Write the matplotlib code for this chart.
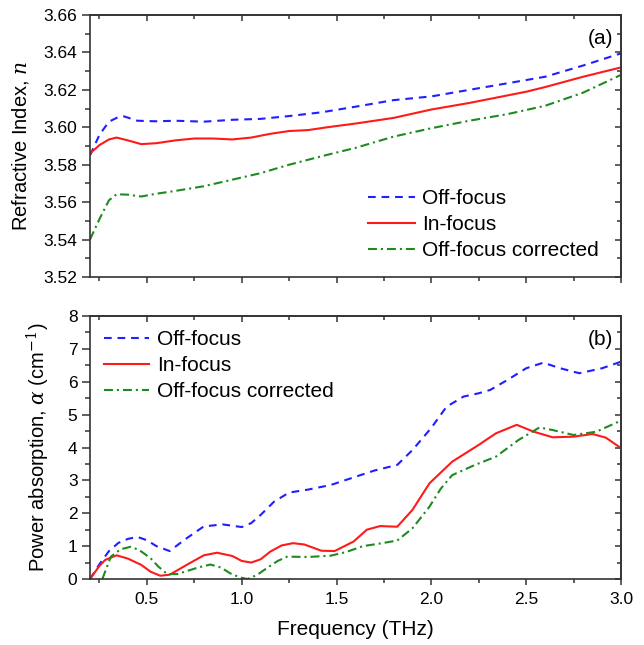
import matplotlib
matplotlib.use("Agg")
import matplotlib.pyplot as plt
from matplotlib.ticker import MultipleLocator

plt.rcParams["font.family"] = ["Liberation Sans", "DejaVu Sans"]
plt.rcParams["mathtext.fontset"] = "dejavuserif"

# (a) refractive index
f_n_off = [0.20, 0.25, 0.30, 0.35, 0.38, 0.45, 0.55, 0.65, 0.80, 0.95, 1.10, 1.25, 1.42,
           1.60, 1.80, 2.00, 2.20, 2.40, 2.60, 2.80, 3.00]
n_off = [3.585, 3.596, 3.603, 3.6055, 3.6058, 3.6035, 3.6032, 3.6035, 3.603, 3.604, 3.6045,
         3.606, 3.608, 3.611, 3.6145, 3.6165, 3.620, 3.6235, 3.627, 3.633, 3.6395]

f_n_in = [0.20, 0.25, 0.30, 0.34, 0.40, 0.47, 0.55, 0.65, 0.75, 0.85, 0.95, 1.05, 1.15, 1.25,
          1.35, 1.45, 1.60, 1.80, 2.00, 2.20, 2.40, 2.50, 2.60, 2.80, 3.00]
n_in = [3.586, 3.5905, 3.5935, 3.5945, 3.593, 3.591, 3.5915, 3.593, 3.594, 3.594, 3.5935,
        3.5945, 3.5965, 3.598, 3.5985, 3.600, 3.602, 3.605, 3.6095, 3.613, 3.617, 3.619,
        3.6215, 3.627, 3.632]

f_n_cor = [0.20, 0.25, 0.30, 0.34, 0.40, 0.47, 0.55, 0.65, 0.80, 0.95, 1.10, 1.25, 1.42,
           1.60, 1.80, 2.00, 2.20, 2.40, 2.60, 2.80, 3.00]
n_cor = [3.540, 3.551, 3.561, 3.5642, 3.564, 3.563, 3.5645, 3.566, 3.5685, 3.572, 3.5755,
         3.580, 3.5845, 3.589, 3.595, 3.5995, 3.6035, 3.607, 3.6115, 3.6185, 3.628]

# (b) power absorption
f_a_off = [0.20, 0.25, 0.30, 0.35, 0.40, 0.45, 0.50, 0.55, 0.62, 0.70, 0.80, 0.90, 1.00,
           1.05, 1.10, 1.17, 1.25, 1.35, 1.47, 1.60, 1.70, 1.82, 1.90, 2.00, 2.08, 2.17,
           2.25, 2.31, 2.40, 2.50, 2.59, 2.68, 2.78, 2.90, 3.00]
a_off = [0.0, 0.45, 0.85, 1.1, 1.22, 1.28, 1.18, 1.0, 0.85, 1.2, 1.6, 1.66, 1.58, 1.7, 1.95,
         2.35, 2.63, 2.72, 2.86, 3.11, 3.3, 3.47, 3.92, 4.6, 5.24, 5.55, 5.65, 5.75, 6.05,
         6.41, 6.58, 6.41, 6.26, 6.41, 6.61]

f_a_in = [0.20, 0.25, 0.28, 0.34, 0.40, 0.47, 0.52, 0.57, 0.62, 0.71, 0.80, 0.87, 0.95,
          1.00, 1.05, 1.10, 1.15, 1.21, 1.27, 1.33, 1.42, 1.49, 1.59, 1.66, 1.73, 1.82,
          1.90, 1.99, 2.11, 2.25, 2.34, 2.45, 2.54, 2.64, 2.75, 2.85, 2.92, 3.00]
a_in = [0.0, 0.4, 0.58, 0.72, 0.62, 0.43, 0.22, 0.1, 0.13, 0.43, 0.72, 0.8, 0.7, 0.55, 0.5,
        0.6, 0.83, 1.02, 1.09, 1.05, 0.86, 0.85, 1.14, 1.5, 1.61, 1.59, 2.10, 2.91, 3.57,
        4.08, 4.43, 4.69, 4.48, 4.31, 4.33, 4.41, 4.30, 3.98]

f_a_cor = [0.265, 0.31, 0.36, 0.414, 0.46, 0.52, 0.56, 0.607, 0.66, 0.71, 0.77, 0.835, 0.89,
           0.94, 0.99, 1.03, 1.08, 1.13, 1.19, 1.24, 1.35, 1.47, 1.55, 1.64, 1.73, 1.82,
           1.90, 1.99, 2.05, 2.11, 2.23, 2.34, 2.46, 2.57, 2.64, 2.75, 2.87, 3.00]
a_cor = [0.0, 0.68, 0.9, 0.98, 0.88, 0.63, 0.38, 0.15, 0.15, 0.24, 0.35, 0.44, 0.35, 0.17,
         0.05, 0.0, 0.12, 0.32, 0.55, 0.68, 0.67, 0.71, 0.82, 1.0, 1.08, 1.17, 1.54, 2.2,
         2.75, 3.16, 3.47, 3.72, 4.23, 4.61, 4.53, 4.38, 4.48, 4.82]

labels = ["Off-focus", "In-focus", "Off-focus corrected"]
blue, red, green = "#1f1fff", "#ff1a1a", "#1f8a1f"
dash_b = (3.7, 2.8)
dash_g = (4.3, 1.9, 1.0, 1.9)

fig = plt.figure(figsize=(6.44, 6.45), dpi=100)
ax1 = fig.add_axes([90 / 644, 368 / 645, 531 / 644, 262 / 645])
ax2 = fig.add_axes([90 / 644, 66 / 645, 531 / 644, 263 / 645])

ax1.plot(f_n_off, n_off, color=blue, lw=1.5, dashes=dash_b, label=labels[0])
ax1.plot(f_n_in, n_in, color=red, lw=1.5, label=labels[1])
ax1.plot(f_n_cor, n_cor, color=green, lw=1.5, dashes=dash_g, label=labels[2])

ax2.plot(f_a_off, a_off, color=blue, lw=1.5, dashes=dash_b, label=labels[0])
ax2.plot(f_a_in, a_in, color=red, lw=1.5, label=labels[1])
ax2.plot(f_a_cor, a_cor, color=green, lw=1.5, dashes=dash_g, label=labels[2])

ax1.set_ylim(3.52, 3.66)
ax1.yaxis.set_major_locator(MultipleLocator(0.02))
ax1.yaxis.set_minor_locator(MultipleLocator(0.01))
ax1.set_ylabel("Refractive Index, $\\mathit{n}$", fontsize=14.5, labelpad=9)
ax1.set_xticklabels([])

ax2.set_ylim(0, 8)
ax2.yaxis.set_major_locator(MultipleLocator(1))
ax2.yaxis.set_minor_locator(MultipleLocator(0.5))
ax2.set_ylabel("Power absorption, $\\alpha$ (cm$^{-1}$)", fontsize=14.5, labelpad=11)
ax2.set_xlabel("Frequency (THz)", fontsize=15, labelpad=10)

for ax in (ax1, ax2):
    ax.set_xlim(0.2, 3.0)
    ax.xaxis.set_major_locator(MultipleLocator(0.5))
    ax.xaxis.set_minor_locator(MultipleLocator(0.25))
    ax.tick_params(which="both", direction="out", labelsize=12.5, color="#333333")
    ax.tick_params(axis="y", which="major", length=6, width=1.1, pad=3)
    ax.tick_params(axis="y", which="minor", length=3.5, width=1.1)
    ax.tick_params(axis="x", which="major", length=4, width=1.1, pad=5)
    ax.tick_params(axis="x", which="minor", length=3, width=1.1)
    for s in ax.spines.values():
        s.set_linewidth(1.2)
        s.set_color("#333333")
    # mirrored ticks pointing inward on top and right
    top = ax.secondary_xaxis("top")
    top.xaxis.set_major_locator(MultipleLocator(0.5))
    top.xaxis.set_minor_locator(MultipleLocator(0.25))
    top.tick_params(which="both", direction="in", labeltop=False, width=1.1, color="#333333")
    top.tick_params(which="major", length=4)
    top.tick_params(which="minor", length=3)
    top.spines["top"].set_linewidth(1.2)
    top.spines["top"].set_color("#333333")
    right = ax.secondary_yaxis("right")
    right.yaxis.set_major_locator(ax.yaxis.get_major_locator())
    right.yaxis.set_minor_locator(ax.yaxis.get_minor_locator())
    right.tick_params(which="both", direction="in", labelright=False, width=1.1, color="#333333")
    right.tick_params(which="major", length=4)
    right.tick_params(which="minor", length=3)
    right.spines["right"].set_linewidth(1.2)
    right.spines["right"].set_color("#333333")

ax2.xaxis.set_major_formatter(plt.FuncFormatter(lambda v, p: "%.1f" % v))

ax1.text(0.985, 0.945, "(a)", transform=ax1.transAxes, ha="right", va="top", fontsize=15)
ax2.text(0.985, 0.947, "(b)", transform=ax2.transAxes, ha="right", va="top", fontsize=15)

ax1.legend(loc="upper left", bbox_to_anchor=(0.5235, 0.334), frameon=False, fontsize=15,
           handlelength=2.25, handletextpad=0.35, labelspacing=0.33, borderpad=0,
           borderaxespad=0)
ax2.legend(loc="upper left", bbox_to_anchor=(0.026, 0.947), frameon=False, fontsize=15,
           handlelength=2.15, handletextpad=0.4, labelspacing=0.34, borderpad=0,
           borderaxespad=0)

fig.savefig("out.png", dpi=100)
